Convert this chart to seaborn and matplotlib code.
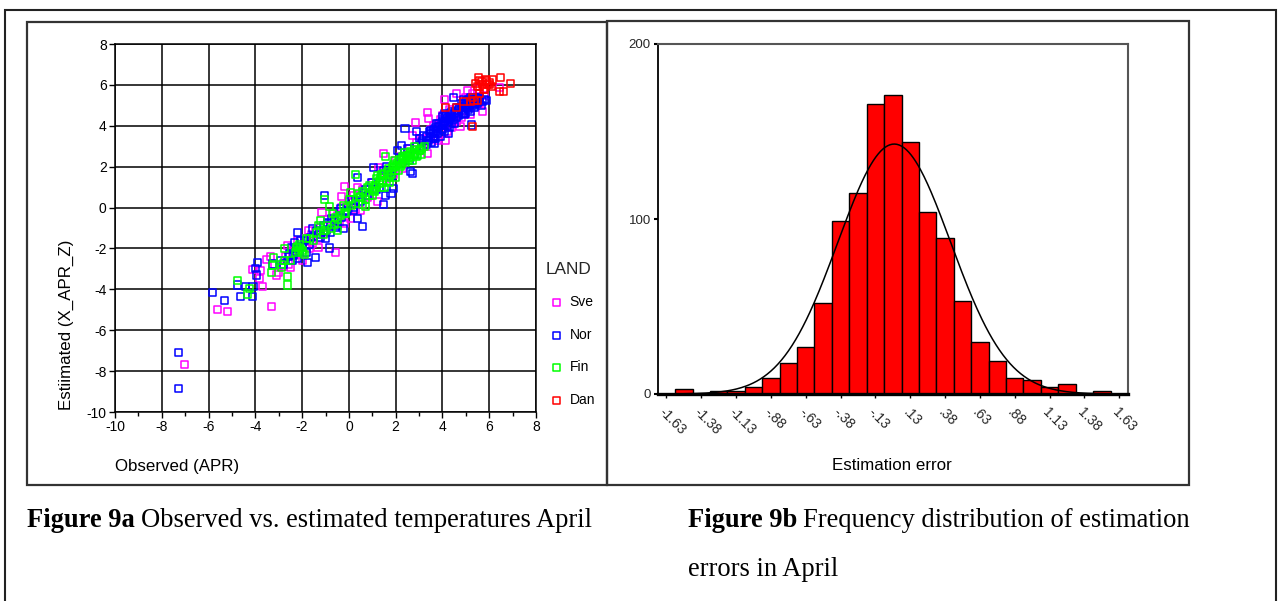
import numpy as np
import pandas as pd
import matplotlib
matplotlib.use("Agg")
import matplotlib.pyplot as plt
import seaborn as sns
from matplotlib.patches import Rectangle

# ---------------- data: Figure 9a (observed vs estimated, April) ----------------
COUNTRIES = ["Sve", "Nor", "Fin", "Dan"]
COLORS = ["#FF00FF", "#0000FF", "#00FF00", "#FF0000"]

sve_x = [-7.02, -5.62, -5.19, -4.13, -3.76, -3.84, -3.71, -3.29, -3.51, -3.36, -3.0, -2.49, -2.58, -2.61,
         -1.82, -1.74, -1.57, -1.32, -1.06, -1.15, -0.59, -0.67, -0.39, -0.17, -0.30, 0.08, 0.37, 0.49,
         1.21, 1.26, 1.47, 2.85, 2.73, 3.37, 3.36, 3.41, 4.13, 4.08, 4.59, 4.75, 5.09, 5.18, 5.71, 6.45,
         5.51, 3.5, 3.9, 4.2, 4.6, 5.0, 5.3, 4.8, 3.2, 2.9, 2.5, 2.0, 1.6, 1.0, 0.6, 0.3, 0.0, -0.5, -0.9,
         -1.3, -1.6, -2.1, -2.4, -2.8, -3.1, 5.5, 4.3, 3.0, -2.2, -1.9, -0.2, 0.8, 1.9, 2.3, 3.8, 4.4, 5.6,
         3.6, 4.0, 4.5, 4.9, 5.2, 5.8, 3.1, 2.6, 2.2, 1.4, 0.9, 0.2, -0.3, -0.8, -1.2, -1.7, -2.0, -2.7,
         -3.2]
sve_y = [-7.66, -4.99, -5.09, -3.02, -3.10, -3.46, -3.87, -4.86, -2.55, -2.39, -3.17, -2.92, -2.76, -1.86,
         -1.94, -1.12, -1.74, -1.94, -1.29, -0.24, -2.18, -0.30, -0.71, 1.04, 0.52, -0.55, 1.0, -0.14,
         0.28, 1.96, 2.65, 4.16, 3.54, 2.65, 4.64, 4.36, 3.30, 5.29, 5.56, 3.95, 5.71, 4.53, 4.72, 5.87,
         5.56, 3.8, 4.3, 3.7, 4.2, 5.4, 5.6, 4.4, 3.0, 3.2, 2.7, 2.3, 1.4, 1.2, 0.9, -0.1, 0.3, -0.4, -0.6,
         -1.5, -1.3, -2.3, -2.0, -2.9, -3.3, 5.8, 4.8, 2.8, -1.6, -1.5, -0.8, 0.5, 1.6, 1.9, 3.3, 3.9, 5.1,
         4.0, 4.5, 4.4, 5.0, 5.1, 5.5, 3.4, 2.9, 2.5, 1.8, 0.6, 0.6, 0.0, -0.9, -1.0, -2.0, -2.6, -2.4,
         -2.8]

nor_x = [-7.3, -7.3, -5.82, -5.30, -4.77, -4.62, -4.43, -4.13, -4.10, -4.0, -3.90, -3.96, -3.25, -2.92,
         -2.79, -2.54, -2.38, -2.45, -2.21, -2.33, -2.07, -1.77, -1.43, -1.57, -1.65, -1.23, -0.98, -1.04,
         -0.81, -0.93, -0.73, -0.56, -0.22, -0.34, -0.05, 0.20, 0.29, 0.37, 0.37, 0.59, 0.62, 0.96, 1.05,
         1.47, 1.38, 1.55, 1.72, 1.80, 1.89, 2.06, 2.23, 2.40, 2.65, 2.73, 2.90, 3.0, 3.15, 3.32, 3.49,
         3.58, 3.66, 3.74, 3.83, 4.0, 4.17, 4.25, 4.33, 4.47, 4.50, 4.67, 4.84, 4.92, 5.01, 5.18, 5.26,
         5.43, 5.60, 5.90,
         3.4, 3.5, 3.6, 3.7, 3.8, 3.9, 4.0, 4.1, 4.2, 4.3, 4.4, 4.5, 4.6, 4.7, 4.8, 4.9, 5.0, 5.1, 5.2,
         5.3, 5.4, 5.5, 5.6, 5.7, 5.8, 3.9, 4.2, 4.6, 5.0, 4.4, 3.6, 4.8, 5.1, 4.1, 4.3, 3.3, 3.2,
         2.8, 2.6, 2.2, 1.8, 1.5, 1.2, 0.8, 0.5, 0.2, -0.1, -0.3, -0.6, -0.9, -1.2, -1.4, -1.7, -2.0,
         -2.3, -2.6, -0.4, -0.8, -1.0, -1.5, -1.8, -2.2,
         3.45, 3.55, 3.65, 3.75, 3.85, 3.95, 4.05, 4.15, 4.25, 4.35, 4.45, 4.55, 4.65, 4.75, 4.85, 4.95,
         5.05, 5.15, 5.25, 5.35, 5.45, 5.55, 5.65, 4.1, 4.4, 3.7, 4.0, 4.9, 5.2, 3.1, 2.9, 2.5, 1.6, 1.3,
         0.7, 0.1, -0.5, -1.1, -1.9, -2.4]
nor_y = [-7.07, -8.85, -4.15, -4.56, -3.79, -4.33, -3.87, -4.36, -3.87, -2.97, -2.70, -3.30, -2.76, -2.60,
         -2.76, -2.27, -2.35, -1.94, -1.20, -1.69, -1.61, -2.68, -2.43, -1.04, -1.45, -1.45, -1.12, 0.58,
         -1.98, -0.71, -0.55, -0.96, -1.01, -0.05, -0.14, -0.14, 0.34, 1.49, -0.55, -0.93, 0.74, 1.24, 1.96,
         0.16, 1.57, 0.58, 1.70, 0.69, 0.92, 2.81, 3.05, 3.87, 1.75, 1.65, 3.70, 3.38, 3.30, 3.46, 3.79,
         3.62, 3.13, 4.12, 3.95, 4.44, 4.36, 3.62, 4.61, 5.37, 4.12, 4.77, 4.93, 4.53, 5.25, 5.40, 4.04,
         5.10, 5.32, 5.25,
         3.3, 3.6, 3.4, 3.9, 3.6, 4.0, 3.8, 4.2, 4.0, 4.3, 4.1, 4.6, 4.4, 4.5, 4.8, 4.6, 5.0, 4.8, 5.2,
         5.0, 5.3, 5.1, 5.4, 5.2, 5.3, 3.5, 4.4, 4.9, 4.6, 4.7, 3.8, 5.1, 5.3, 3.7, 3.9, 3.1, 3.5,
         2.6, 2.3, 2.4, 1.5, 1.8, 0.9, 0.6, 0.3, 0.0, -0.2, -0.5, -0.7, -0.8, -1.3, -1.1, -1.8, -1.9,
         -2.2, -2.4, -0.2, -1.2, -1.5, -1.4, -2.2, -2.5,
         3.7, 3.2, 3.5, 3.7, 4.1, 3.8, 4.0, 4.5, 4.2, 4.4, 4.3, 4.7, 4.6, 4.9, 4.7, 5.1,
         4.9, 5.0, 5.3, 4.9, 5.4, 5.2, 5.0, 4.6, 4.5, 3.4, 4.2, 5.3, 4.7, 3.2, 3.0, 2.9, 2.0, 1.0,
         0.9, 0.4, -0.9, -0.9, -1.6, -2.6]

fin_x = [-4.77, -4.35, -4.23, -3.25, -3.29, -3.22, -2.88, -2.61, -2.61, -2.75, -2.75, -2.16, -2.07, -1.98,
         -2.24, -1.82, -1.23, -1.20, -1.04, -0.81, -0.76, -0.56, -0.47, -0.25, -0.14, 0.02, 0.08, 0.29,
         0.46, 0.59, 0.71, 0.79, 0.88, 1.05, 1.30, 1.21, 1.38, 1.50, 1.55, 1.72, 1.97, 1.89, 1.97, 2.14,
         2.31, 2.48, 2.65, 2.82, 2.95, 3.02, 3.24,
         0.6, 0.9, 1.1, 1.3, 1.4, 1.6, 1.7, 1.8, 1.9, 2.0, 2.1, 2.2, 2.3, 2.4, 2.5, 2.6, 2.7, 2.8, 2.9,
         3.0, 3.1, 1.0, 1.2, 2.4, 1.5, 0.7, 0.4, 0.1, -0.2, -0.5, -0.7, -1.0, -1.3, -1.5, -2.0, -2.2,
         -1.9, -2.5, -2.9,
         1.0, 1.15, 1.35, 1.45, 1.65, 1.75, 1.85, 2.05, 2.15, 2.25, 2.35, 2.45, 2.55, 2.65, 2.75, 2.85,
         3.1, 0.5, 0.3, -0.1, -0.35, -0.6, -0.9, -1.1, -1.4, -1.7, -2.1, -2.3]
fin_y = [-3.55, -4.23, -3.94, -2.84, -3.17, -2.43, -2.92, -3.79, -3.38, -2.60, -2.02, -2.10, -2.02, -2.19,
         -1.94, -1.53, -1.12, -0.63, 0.41, 0.03, -1.04, -0.47, -1.12, 0.11, -0.30, 0.41, 0.74, 1.62,
         0.50, 0.16, 0.03, 1.0, 0.58, 0.82, 1.33, 1.57, 1.0, 1.65, 2.49, 1.24, 1.49, 1.96, 2.32, 1.82,
         2.32, 2.49, 2.73, 2.98, 2.57, 2.81, 2.98,
         0.8, 1.1, 0.8, 1.2, 1.6, 1.3, 1.9, 1.6, 2.1, 1.8, 2.2, 2.0, 2.5, 2.2, 2.4, 2.6, 2.3, 2.7, 2.5,
         2.8, 2.6, 0.6, 1.4, 2.7, 1.0, 0.4, 0.7, 0.1, -0.3, -0.6, -0.3, -1.1, -0.9, -1.6, -2.1, -1.9,
         -2.3, -2.6, -2.8,
         1.0, 1.1, 1.45, 1.25, 1.75, 1.45, 2.0, 2.05, 2.35, 2.1, 2.4, 2.55, 2.3, 2.45, 2.6, 2.85,
         2.9, 0.55, 0.2, 0.0, -0.4, -0.85, -0.9, -1.3, -1.2, -1.5, -1.8, -2.2]

dan_x = [5.29, 4.13, 4.59, 5.18, 5.35, 5.43, 5.56, 5.60, 5.68, 5.77, 5.85, 6.02, 6.15, 6.48, 6.45, 6.62,
         6.90, 5.51, 5.94, 5.5, 5.7, 5.8, 6.0, 5.6, 5.9, 6.1, 5.3, 5.6, 4.9]
dan_y = [3.98, 4.90, 4.90, 5.17, 5.25, 6.08, 6.38, 5.92, 6.16, 5.77, 6.24, 6.0, 6.24, 6.36, 5.67, 5.67,
         6.08, 5.25, 6.0, 5.9, 6.0, 5.8, 6.1, 5.6, 6.2, 5.9, 5.4, 6.2, 5.2]

SCATTER_TICKS = [-10, -8, -6, -4, -2, 0, 2, 4, 6, 8]

# ---------------- data: Figure 9b (histogram of estimation errors) ----------------
BIN_CENTERS = [-1.625, -1.5, -1.375, -1.25, -1.125, -1.0, -0.875, -0.75, -0.625, -0.5, -0.375, -0.25,
               -0.125, 0.0, 0.125, 0.25, 0.375, 0.5, 0.625, 0.75, 0.875, 1.0, 1.125, 1.25, 1.375, 1.5, 1.625]
BIN_COUNTS = [0, 3, 0, 2, 2, 4, 9, 18, 27, 52, 99, 115, 166, 171, 144, 104, 89, 53, 30, 19, 9, 8, 4, 6,
              0, 2, 0]
BIN_WIDTH = 0.125
HIST_TICKS = [-1.625, -1.375, -1.125, -0.875, -0.625, -0.375, -0.125, 0.125, 0.375, 0.625, 0.875,
              1.125, 1.375, 1.625]
HIST_TICK_LABELS = ["-1.63", "-1.38", "-1.13", "-.88", "-.63", "-.38", "-.13", ".13", ".38", ".63",
                    ".88", "1.13", "1.38", "1.63"]
HIST_YTICKS = [0, 100, 200]
CURVE_MEAN = 0.01
CURVE_SD = 0.405
CURVE_N = 1160

# ---------------- figure ----------------
W, H = 1282, 601
sns.set_theme(style="white")
plt.rcParams["font.family"] = ["Liberation Sans", "DejaVu Sans"]
plt.rcParams["axes.unicode_minus"] = False
fig = plt.figure(figsize=(W / 100, H / 100), dpi=100)
fig.patch.set_facecolor("white")


def fx(px):
    return px / W


def fy(py):
    return 1 - py / H


# frames
fig.add_artist(Rectangle((fx(5), -0.05), fx(1275.6 - 5), fy(10) + 0.05, transform=fig.transFigure,
                         fill=False, edgecolor="#222222", lw=1.5))
fig.add_artist(Rectangle((fx(26.5), fy(485)), fx(607 - 26.5), (485 - 21.7) / H, transform=fig.transFigure,
                         fill=False, edgecolor="#333333", lw=1.6))
fig.add_artist(Rectangle((fx(607), fy(485)), fx(1189 - 607), (485 - 21.0) / H, transform=fig.transFigure,
                         fill=False, edgecolor="#333333", lw=1.6))

# ---- scatter ----
ax1 = fig.add_axes([fx(115), fy(412), fx(536 - 115), (412 - 44) / H])
series = [(sve_x, sve_y), (nor_x, nor_y), (fin_x, fin_y), (dan_x, dan_y)]
for name, col, (xs, ys) in zip(COUNTRIES, COLORS, series):
    sns.scatterplot(x=xs, y=ys, ax=ax1, marker="s", s=26, color=col, facecolor="none",
                    edgecolor=col, linewidth=1.1, label=name, zorder=3)
ax1.set_xlim(-10, 8)
ax1.set_ylim(-10, 8)
ax1.set_xticks(SCATTER_TICKS)
ax1.set_yticks(SCATTER_TICKS)
ax1.set_xticks([-9, -7, -5, -3, -1, 1, 3, 5, 7], minor=True)
ax1.set_axisbelow(True)
ax1.grid(True, which="major", color="black", lw=1.1)
ax1.grid(False, which="minor")
for sp in ax1.spines.values():
    sp.set_color("black")
    sp.set_linewidth(1.1)
ax1.tick_params(axis="both", which="major", direction="out", length=4, width=1, color="black",
                labelsize=10, labelcolor="black", pad=2, bottom=True, left=True)
ax1.tick_params(axis="x", which="minor", direction="out", length=3, width=1, color="black", bottom=True)
ax1.set_xlabel("")
ax1.set_ylabel("")
leg = ax1.legend(title="LAND", loc="upper left", bbox_to_anchor=(fx(546), fy(262)),
                 bbox_transform=fig.transFigure, frameon=False, fontsize=10, title_fontsize=12.4,
                 handlelength=1.5, handletextpad=0.2, labelspacing=1.33, borderpad=0, borderaxespad=0,
                 alignment="left")
for t in leg.get_texts():
    t.set_color("black")

fig.text(fx(115), fy(466), "Observed (APR)", fontsize=12.2, ha="left", va="center", color="black")
fig.text(fx(66), fy(410), "Estiimated (X_APR_Z)", fontsize=12.2, rotation=90, ha="center", va="bottom",
         color="black")

# ---- histogram ----
ax2 = fig.add_axes([fx(657.7), fy(394), fx(1128 - 657.7), (394 - 44) / H])
hist_df = pd.DataFrame({"error": BIN_CENTERS, "count": BIN_COUNTS})
lo = BIN_CENTERS[0] - BIN_WIDTH / 2
hi = BIN_CENTERS[-1] + BIN_WIDTH / 2
sns.histplot(data=hist_df, x="error", weights="count", binwidth=BIN_WIDTH, binrange=(lo, hi), ax=ax2,
             color="#FF0000", edgecolor="black", linewidth=1.0, alpha=1, zorder=2)
xs = np.linspace(lo, hi, 400)
peak = CURVE_N * BIN_WIDTH / (CURVE_SD * np.sqrt(2 * np.pi))
ys = peak * np.exp(-0.5 * ((xs - CURVE_MEAN) / CURVE_SD) ** 2)
sns.lineplot(x=xs, y=ys, ax=ax2, color="black", lw=1.1, zorder=3)
ax2.set_xlim(lo, hi)
ax2.set_ylim(0, 200)
ax2.set_xticks(HIST_TICKS)
ax2.set_xticklabels(HIST_TICK_LABELS, rotation=-45, ha="left", va="top", rotation_mode="anchor")
ax2.set_yticks(HIST_YTICKS)
ax2.set_yticklabels([str(v) for v in HIST_YTICKS])
ax2.tick_params(axis="x", direction="out", length=3, width=1, color="black", labelsize=10, pad=5,
                bottom=True)
ax2.tick_params(axis="y", direction="out", length=3, width=1.5, color="black", labelsize=9.5, pad=2,
                left=True)
ax2.set_xlabel("")
ax2.set_ylabel("")
ax2.grid(False)
ax2.spines["left"].set_color("black")
ax2.spines["left"].set_linewidth(1.3)
ax2.spines["bottom"].set_color("black")
ax2.spines["bottom"].set_linewidth(2.4)
ax2.spines["top"].set_color("#555555")
ax2.spines["top"].set_linewidth(1.5)
ax2.spines["right"].set_color("#555555")
ax2.spines["right"].set_linewidth(1.5)

fig.text(fx(892), fy(465), "Estimation error", fontsize=12.2, ha="center", va="center", color="black")

# ---- captions ----
renderer = fig.canvas.get_renderer()
serif = ["Liberation Serif", "DejaVu Serif"]
CAP_SIZE = 19.1


def caption(x_px, y_px, bold, normal):
    tb = fig.text(fx(x_px), fy(y_px), bold, fontsize=CAP_SIZE, fontweight="bold", family=serif,
                  ha="left", va="baseline", color="black")
    bb = tb.get_window_extent(renderer=renderer)
    fig.text(bb.x1 / W + fx(6), fy(y_px), normal, fontsize=CAP_SIZE, family=serif,
             ha="left", va="baseline", color="black")


caption(27, 527, "Figure 9a", "Observed vs. estimated temperatures April")
caption(688, 527, "Figure 9b", "Frequency distribution of estimation")
fig.text(fx(688), fy(576.5), "errors in April", fontsize=CAP_SIZE, family=serif, ha="left",
         va="baseline", color="black")

fig.savefig("out.png", dpi=100, facecolor="white")
